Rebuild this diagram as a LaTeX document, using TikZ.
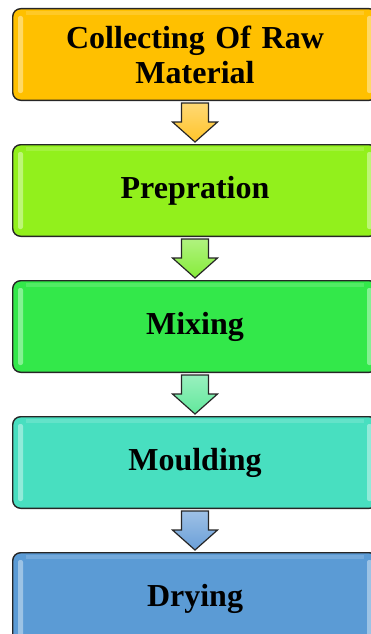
\documentclass[tikz,border=0pt]{standalone}
\usepackage{fontspec}
\setmainfont{Liberation Serif}
\usetikzlibrary{calc,positioning}

\definecolor{rawcol}{HTML}{FFC000}
\definecolor{prepcol}{HTML}{92F01C}
\definecolor{mixcol}{HTML}{33E84A}
\definecolor{mouldcol}{HTML}{48DFC0}
\definecolor{drycol}{HTML}{5B9BD5}
\definecolor{arrowa}{HTML}{FFC42A}
\definecolor{arrowb}{HTML}{86EC3A}
\definecolor{arrowc}{HTML}{62E89C}
\definecolor{arrowd}{HTML}{6A9FD8}

\begin{document}
\begin{tikzpicture}[
        every node/.append style={font=\bfseries\fontsize{32}{35}\selectfont},
        stagebox/.style={draw=black!85,line width=1.4pt,rounded corners=8pt,
            minimum width=364.6pt,minimum height=91.6pt,align=center,text width=340pt},
        flowarrow/.style={draw=black!85,line width=1.2pt,line join=miter}
    ]
    \useasboundingbox (0,0) rectangle (370pt,-634pt);

    \node[stagebox,fill=rawcol] (raw) at (195pt,-54.5pt) {Collecting Of Raw\\Material};
    \node[stagebox,fill=prepcol,below=43pt of raw] (prep) {Prepration};
    \node[stagebox,fill=mixcol,below=43pt of prep] (mix) {Mixing};
    \node[stagebox,fill=mouldcol,below=43pt of mix] (mould) {Moulding};
    \node[stagebox,fill=drycol,below=43pt of mould] (dry) {Drying};

    % bevel highlights
    \foreach \n in {raw,prep,mix,mould,dry}{
        \fill[white,opacity=.4,rounded corners=2pt] ($(\n.north west)+(6pt,-8pt)$) rectangle ($(\n.south west)+(11pt,8pt)$);
        \fill[white,opacity=.4,rounded corners=2pt] ($(\n.north east)+(-6pt,-8pt)$) rectangle ($(\n.south east)+(-11pt,8pt)$);
        \fill[white,opacity=.15] ($(\n.north west)+(14pt,-3pt)$) rectangle ($(\n.north east)+(-14pt,-7pt)$);
    }

    \foreach \a/\b/\c in {raw/prep/arrowa,prep/mix/arrowb,mix/mould/arrowc,mould/dry/arrowd}{
        \shade[flowarrow,top color=\c!65!white,bottom color=\c]
            ($(\a.south)+(-13.5pt,-2pt)$) -- ($(\a.south)+(13.5pt,-2pt)$)
            -- ($(\a.south)+(13.5pt,-21pt)$) -- ($(\a.south)+(22.5pt,-21pt)$)
            -- ($(\b.north)+(0,2pt)$)
            -- ($(\a.south)+(-22.5pt,-21pt)$) -- ($(\a.south)+(-13.5pt,-21pt)$) -- cycle;
    }
\end{tikzpicture}
\end{document}
